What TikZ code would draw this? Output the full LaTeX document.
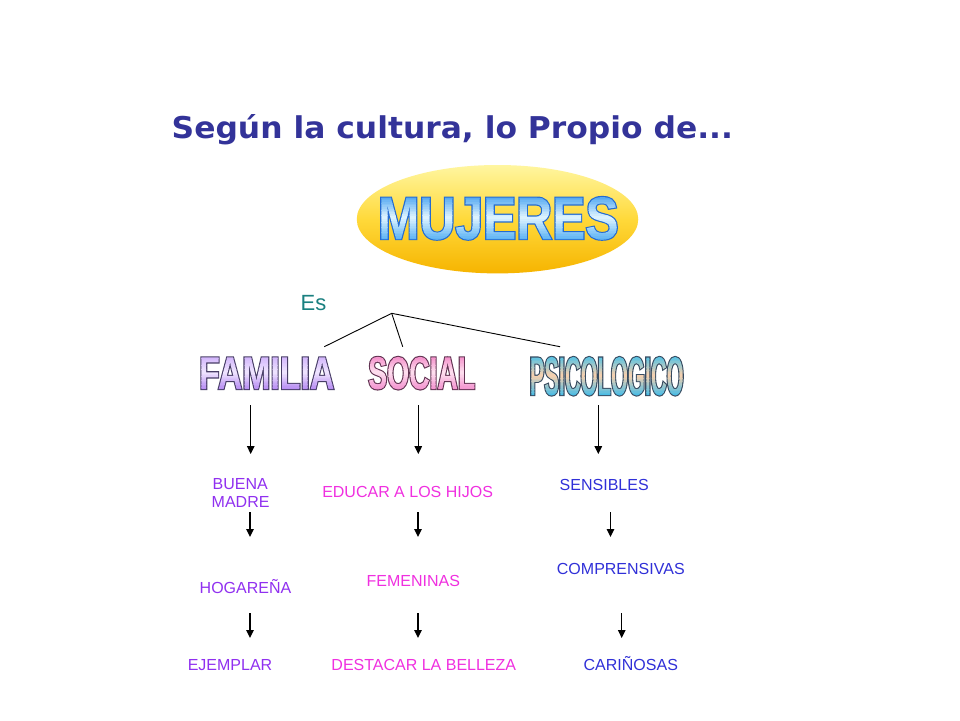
\documentclass[tikz,border=0pt]{standalone}
\usepackage{fontspec}
\setmainfont{Liberation Sans}
\newfontfamily\titlefont{DejaVu Sans}[FakeStretch=1.045]
\newfontfamily\mujfont{Liberation Sans}[FakeStretch=0.83]
\newfontfamily\famfont{Liberation Sans}[FakeStretch=0.735]
\newfontfamily\socfont{Liberation Sans}[FakeStretch=0.615]
\newfontfamily\psifont{Liberation Sans}[FakeStretch=0.40]
\usetikzlibrary{arrows.meta,shapes.geometric}

\definecolor{titlecol}{HTML}{333399}
\definecolor{escol}{HTML}{1A8080}
\definecolor{famcol}{HTML}{9030F0}
\definecolor{soccol}{HTML}{F030E0}
\definecolor{psicol}{HTML}{3030D8}
\definecolor{ovaltop}{HTML}{FFF6A0}
\definecolor{ovalmid}{HTML}{FFD93A}
\definecolor{ovalbot}{HTML}{F6B400}

% split "r g b"
\def\splitrgb#1 #2 #3\relax{\def\cR{#1}\def\cG{#2}\def\cB{#3}}
% gradient strips (PDF code), #1 macro, #2 height (bp), #3 top, #4 middle, #5 bottom
\newcommand\mkgrad[5]{%
  \splitrgb#3\relax\let\gtR\cR\let\gtG\cG\let\gtB\cB
  \splitrgb#4\relax\let\gmR\cR\let\gmG\cG\let\gmB\cB
  \splitrgb#5\relax\let\gbR\cR\let\gbG\cG\let\gbB\cB
  \gdef\gradtmp{}%
  \foreach \i in {0,...,29}{%
    \pgfmathsetmacro\gs{(\i+0.5)/30}%
    \ifdim\gs pt<0.5pt
      \pgfmathsetmacro\gu{2*\gs}%
      \pgfmathsetmacro\gR{\gbR+(\gmR-\gbR)*\gu}%
      \pgfmathsetmacro\gG{\gbG+(\gmG-\gbG)*\gu}%
      \pgfmathsetmacro\gB{\gbB+(\gmB-\gbB)*\gu}%
    \else
      \pgfmathsetmacro\gu{2*\gs-1}%
      \pgfmathsetmacro\gR{\gmR+(\gtR-\gmR)*\gu}%
      \pgfmathsetmacro\gG{\gmG+(\gtG-\gmG)*\gu}%
      \pgfmathsetmacro\gB{\gmB+(\gtB-\gmB)*\gu}%
    \fi
    \pgfmathsetmacro\gy{-4+\i*(#2+8)/30}%
    \pgfmathsetmacro\gh{(#2+8)/30+0.3}%
    \xdef\gradtmp{\gradtmp\space\gR\space\gG\space\gB\space rg -3000 \gy\space 3200 \gh\space re f}%
  }%
  \global\let#1\gradtmp}

\mkgrad{\gradM}{43}{0.18 0.58 0.93}{0.88 0.96 1}{0.28 0.66 0.95}
\mkgrad{\gradF}{33}{0.78 0.64 0.98}{0.94 0.9 1}{0.66 0.46 0.94}
\mkgrad{\gradS}{33}{0.94 0.45 0.74}{1 0.88 0.94}{0.94 0.5 0.78}
\mkgrad{\gradP}{39}{0.15 0.74 0.95}{0.98 0.82 0.68}{0.15 0.72 0.94}

% word art: #1 font, #2 stroke rgb, #3 line width, #4 gradient, #5 text
\newcommand\artword[5]{{#1\special{pdf:literal direct q #3 w #2 RG 5 Tr}#5\special{pdf:literal direct 0 Tr}\special{pdf:literal #4}\special{pdf:literal direct Q}}}

\begin{document}
\begin{tikzpicture}[x=1pt,y=-1pt,
  lbl/.style={inner sep=0pt, anchor=base, font=\fontsize{16}{18}\selectfont},
  famlbl/.style={lbl, text=famcol},
  soclbl/.style={lbl, text=soccol},
  psilbl/.style={lbl, text=psicol},
  art/.style={inner sep=0pt, anchor=base},
  arr/.style={line width=1.3pt, -{Triangle[width=7.5pt,length=8pt]}},
  link/.style={line width=0.9pt},
]
\useasboundingbox (0,0) rectangle (960,720);
\fill[white] (0,0) rectangle (960,720);

% title
\node[inner sep=0pt, anchor=base west, text=titlecol,
      font=\titlefont\bfseries\fontsize{30}{30}\selectfont] (title) at (171.5,138.3)
  {Según la cultura, lo Propio de...};

% oval with MUJERES
\node[ellipse, minimum width=281.5pt, minimum height=108.4pt, inner sep=0pt,
      top color=ovaltop, bottom color=ovalbot, middle color=ovalmid] (oval) at (497.5,219.2) {};
\node[art] (mujeres) at (498.3,239)
  {\artword{\mujfont\bfseries\fontsize{60}{60}\selectfont}{0.14 0.42 0.82}{2.4}{\gradM}{MUJERES}};

% Es and links
\node[inner sep=0pt, anchor=base west, text=escol, font=\fontsize{22}{22}\selectfont] (es) at (300.5,310.7) {Es};
\coordinate (apex) at (391.7,313.3);
\coordinate (lf) at (324.3,346.7);
\coordinate (ls) at (402.7,346.7);
\coordinate (lp) at (560,346.7);
\draw[link] (lf) -- (apex) -- (lp);
\draw[link] (apex) -- (ls);

% headings
\node[art] (familia) at (266.7,389)
  {\artword{\famfont\bfseries\fontsize{46}{46}\selectfont}{0.28 0.24 0.4}{2.2}{\gradF}{FAMILIA}};
\node[art] (social) at (421.7,389)
  {\artword{\socfont\bfseries\fontsize{46}{46}\selectfont}{0.38 0.2 0.32}{2.2}{\gradS}{SOCIAL}};
\node[art] (psico) at (606.7,395)
  {\artword{\psifont\bfseries\fontsize{54.5}{54.5}\selectfont}{0.22 0.3 0.38}{2.2}{\gradP}{PSICOLOGICO}};

% first-row arrows
\coordinate (fa1) at (250.7,405); \coordinate (fa2) at (250.7,454);
\coordinate (sa1) at (418.3,405); \coordinate (sa2) at (418.3,454);
\coordinate (pa1) at (598.3,405); \coordinate (pa2) at (598.3,454);
\draw[arr] (fa1) -- (fa2);
\draw[arr] (sa1) -- (sa2);
\draw[arr] (pa1) -- (pa2);

% second-level labels
\node[famlbl] (buena) at (240.3,489) {BUENA};
\node[famlbl] (madre) at (240.6,507.7) {MADRE};
\node[soclbl] (educar) at (407.6,497.3) {EDUCAR A LOS HIJOS};
\node[psilbl] (sensibles) at (604.2,490) {SENSIBLES};

% second-row arrows
\coordinate (fb1) at (250,512); \coordinate (fb2) at (250,537);
\coordinate (sb1) at (418,512); \coordinate (sb2) at (418,537);
\coordinate (pb1) at (610.5,512); \coordinate (pb2) at (610.5,537);
\draw[arr] (fb1) -- (fb2);
\draw[arr] (sb1) -- (sb2);
\draw[arr] (pb1) -- (pb2);

% third-level labels
\node[famlbl] (hogar) at (245.5,593.3) {HOGAREÑA};
\node[soclbl] (femen) at (413.3,586) {FEMENINAS};
\node[psilbl] (compr) at (620.8,574.3) {COMPRENSIVAS};

% third-row arrows
\coordinate (fc1) at (250,613); \coordinate (fc2) at (250,638);
\coordinate (sc1) at (418,613); \coordinate (sc2) at (418,638);
\coordinate (pc1) at (621.7,613); \coordinate (pc2) at (621.7,638);
\draw[arr] (fc1) -- (fc2);
\draw[arr] (sc1) -- (sc2);
\draw[arr] (pc1) -- (pc2);

% bottom labels
\node[famlbl] (ejemplar) at (230,670) {EJEMPLAR};
\node[soclbl] (destacar) at (423.8,670) {DESTACAR LA BELLEZA};
\node[psilbl] (carinosas) at (630.8,670) {CARIÑOSAS};
\end{tikzpicture}
\end{document}
